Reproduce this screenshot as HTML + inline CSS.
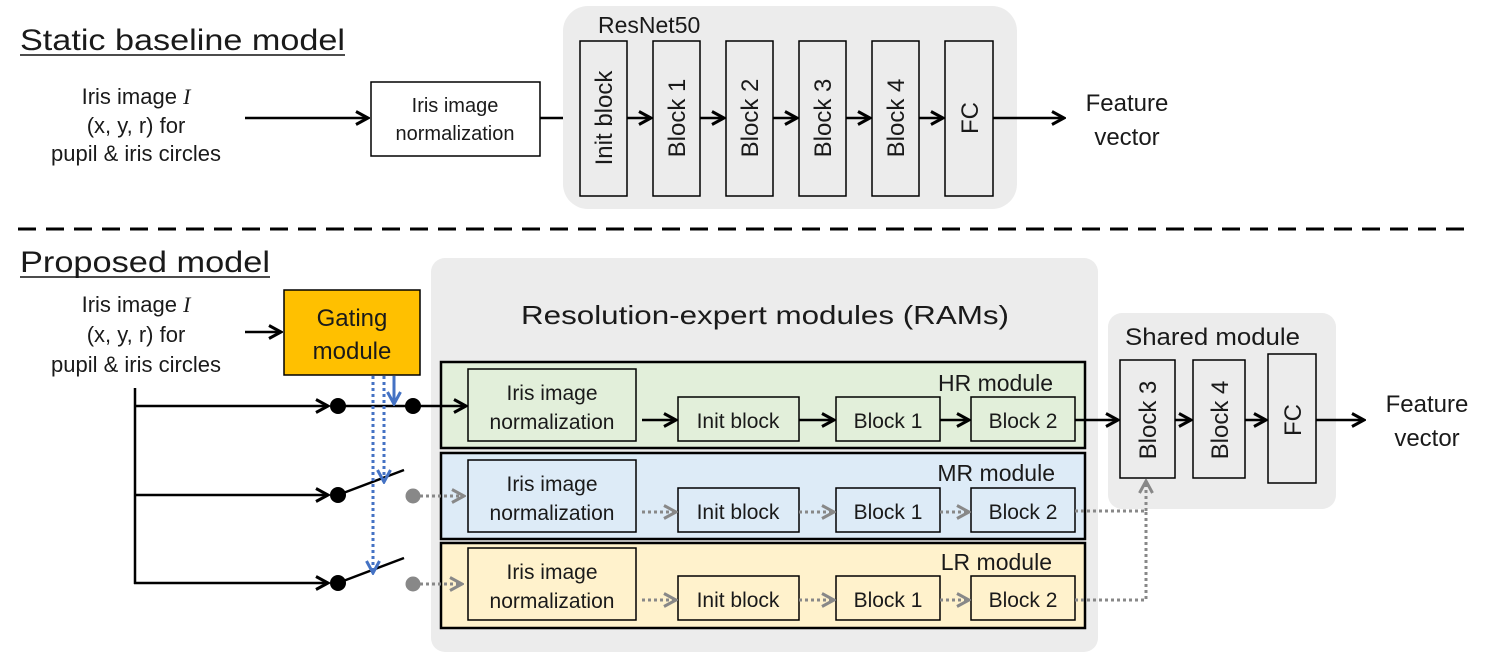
<!DOCTYPE html>
<html><head><meta charset="utf-8"><style>
html,body{margin:0;padding:0;background:#fff;}
svg{display:block;}
text{font-family:"Liberation Sans",sans-serif;fill:#1a1a1a;}
</style></head><body>
<svg width="1495" height="668" viewBox="0 0 1495 668" xmlns="http://www.w3.org/2000/svg">
<defs>
<marker id="a" viewBox="0 0 16 16" refX="14" refY="8" markerWidth="16" markerHeight="16" markerUnits="userSpaceOnUse" orient="auto"><path d="M2,1.5 L14,8 L2,14.5" fill="none" stroke="#000" stroke-width="3"/></marker>
<marker id="g" viewBox="0 0 16 16" refX="14" refY="8" markerWidth="16" markerHeight="16" markerUnits="userSpaceOnUse" orient="auto"><path d="M2,1.5 L14,8 L2,14.5" fill="none" stroke="#888" stroke-width="3"/></marker>
<marker id="b" viewBox="0 0 16 16" refX="14" refY="8" markerWidth="16" markerHeight="16" markerUnits="userSpaceOnUse" orient="auto"><path d="M2,1.5 L14,8 L2,14.5" fill="none" stroke="#4472C4" stroke-width="3"/></marker>
</defs>

<text x="20" y="50" font-size="30" textLength="325" lengthAdjust="spacingAndGlyphs">Static baseline model</text>
<line x1="20" y1="55" x2="345" y2="55" stroke="#111" stroke-width="1.5"/>
<g font-size="22" text-anchor="middle">
<text x="136" y="104">Iris image <tspan font-family="Liberation Serif" font-style="italic">I</tspan></text>
<text x="136" y="133">(x, y, r) for</text>
<text x="136" y="161">pupil &amp; iris circles</text>
</g>
<line x1="245" y1="118" x2="368" y2="118" stroke="#000" stroke-width="2.5" marker-end="url(#a)"/>
<rect x="371" y="82" width="169" height="74" fill="#fff" stroke="#000" stroke-width="1.5"/>
<text x="455" y="112" font-size="20" text-anchor="middle">Iris image</text>
<text x="455" y="140" font-size="20" text-anchor="middle">normalization</text>
<line x1="540" y1="118" x2="578" y2="118" stroke="#000" stroke-width="2.5" marker-end="url(#a)"/>

<rect x="563" y="6" width="454" height="203" rx="25" fill="#ececec"/>
<text x="598" y="33" font-size="23">ResNet50</text>
<g stroke="#000" stroke-width="1.5" fill="#ececec">
<rect x="580" y="41" width="47" height="155"/>
<rect x="653" y="41" width="47" height="155"/>
<rect x="726" y="41" width="47" height="155"/>
<rect x="799" y="41" width="47" height="155"/>
<rect x="872" y="41" width="47" height="155"/>
<rect x="945" y="41" width="48" height="155"/>
</g>
<g font-size="24" text-anchor="middle">
<text transform="translate(612,118) rotate(-90)">Init block</text>
<text transform="translate(685,118) rotate(-90)">Block 1</text>
<text transform="translate(758,118) rotate(-90)">Block 2</text>
<text transform="translate(831,118) rotate(-90)">Block 3</text>
<text transform="translate(904,118) rotate(-90)">Block 4</text>
<text transform="translate(978,118) rotate(-90)">FC</text>
</g>
<g stroke="#000" stroke-width="2.5">
<line x1="627" y1="118" x2="651" y2="118" marker-end="url(#a)"/>
<line x1="700" y1="118" x2="724" y2="118" marker-end="url(#a)"/>
<line x1="773" y1="118" x2="797" y2="118" marker-end="url(#a)"/>
<line x1="846" y1="118" x2="870" y2="118" marker-end="url(#a)"/>
<line x1="919" y1="118" x2="943" y2="118" marker-end="url(#a)"/>
<line x1="993" y1="118" x2="1064" y2="118" marker-end="url(#a)"/>
</g>
<text x="1127" y="111" font-size="24" text-anchor="middle">Feature</text>
<text x="1127" y="145" font-size="24" text-anchor="middle">vector</text>

<line x1="18" y1="229" x2="1472" y2="229" stroke="#000" stroke-width="3" stroke-dasharray="18,10"/>

<text x="20" y="272" font-size="30" textLength="250" lengthAdjust="spacingAndGlyphs">Proposed model</text>
<line x1="20" y1="277" x2="270" y2="277" stroke="#111" stroke-width="1.5"/>
<g font-size="22" text-anchor="middle">
<text x="136" y="312">Iris image <tspan font-family="Liberation Serif" font-style="italic">I</tspan></text>
<text x="136" y="342">(x, y, r) for</text>
<text x="136" y="372">pupil &amp; iris circles</text>
</g>
<line x1="245" y1="332" x2="281" y2="332" stroke="#000" stroke-width="2.5" marker-end="url(#a)"/>
<rect x="284" y="290" width="136" height="85" fill="#FFC000" stroke="#000" stroke-width="1.5"/>
<text x="352" y="326" font-size="24" text-anchor="middle">Gating</text>
<text x="352" y="359" font-size="24" text-anchor="middle">module</text>

<rect x="431" y="258" width="667" height="394" rx="14" fill="#ececec"/>
<text x="765" y="324" font-size="26" text-anchor="middle" textLength="488" lengthAdjust="spacingAndGlyphs">Resolution-expert modules (RAMs)</text>

<rect x="1108" y="313" width="228" height="196" rx="14" fill="#ececec"/>
<text x="1125" y="345" font-size="24" textLength="175" lengthAdjust="spacingAndGlyphs">Shared module</text>

<g stroke="#000" stroke-width="2.5">
<rect x="441" y="362" width="644" height="86" fill="#E2EFDA"/>
<rect x="441" y="453" width="644" height="86" fill="#DDEBF7"/>
<rect x="441" y="543" width="644" height="85" fill="#FFF2CC"/>
</g>
<g font-size="23" text-anchor="end">
<text x="1053" y="391">HR module</text>
<text x="1055" y="481">MR module</text>
<text x="1052" y="570">LR module</text>
</g>
<g stroke="#000" stroke-width="1.5">
<rect x="468" y="369" width="168" height="72" fill="#E2EFDA"/>
<rect x="678" y="397" width="121" height="44" fill="#E2EFDA"/>
<rect x="836" y="397" width="104" height="44" fill="#E2EFDA"/>
<rect x="971" y="397" width="104" height="44" fill="#E2EFDA"/>
<rect x="468" y="460" width="168" height="72" fill="#DDEBF7"/>
<rect x="678" y="488" width="121" height="44" fill="#DDEBF7"/>
<rect x="836" y="488" width="104" height="44" fill="#DDEBF7"/>
<rect x="971" y="488" width="104" height="44" fill="#DDEBF7"/>
<rect x="468" y="548" width="168" height="72" fill="#FFF2CC"/>
<rect x="678" y="576" width="121" height="44" fill="#FFF2CC"/>
<rect x="836" y="576" width="104" height="44" fill="#FFF2CC"/>
<rect x="971" y="576" width="104" height="44" fill="#FFF2CC"/>
</g>
<g font-size="21" text-anchor="middle">
<text x="552" y="400">Iris image</text><text x="552" y="429">normalization</text>
<text x="738" y="428">Init block</text><text x="888" y="428">Block 1</text><text x="1023" y="428">Block 2</text>
<text x="552" y="491">Iris image</text><text x="552" y="520">normalization</text>
<text x="738" y="519">Init block</text><text x="888" y="519">Block 1</text><text x="1023" y="519">Block 2</text>
<text x="552" y="579">Iris image</text><text x="552" y="608">normalization</text>
<text x="738" y="607">Init block</text><text x="888" y="607">Block 1</text><text x="1023" y="607">Block 2</text>
</g>
<g stroke="#000" stroke-width="2.5">
<line x1="642" y1="420" x2="676" y2="420" marker-end="url(#a)"/>
<line x1="799" y1="420" x2="834" y2="420" marker-end="url(#a)"/>
<line x1="940" y1="420" x2="969" y2="420" marker-end="url(#a)"/>
</g>
<g stroke="#888" stroke-width="3" stroke-dasharray="3,3" fill="none">
<line x1="642" y1="512" x2="676" y2="512" marker-end="url(#g)"/>
<line x1="799" y1="512" x2="834" y2="512" marker-end="url(#g)"/>
<line x1="940" y1="512" x2="969" y2="512" marker-end="url(#g)"/>
<line x1="642" y1="600" x2="676" y2="600" marker-end="url(#g)"/>
<line x1="799" y1="600" x2="834" y2="600" marker-end="url(#g)"/>
<line x1="940" y1="600" x2="969" y2="600" marker-end="url(#g)"/>
<path d="M1075,511 L1146,511 L1146,600 L1075,600"/>
<line x1="1146" y1="511" x2="1146" y2="481" marker-end="url(#g)"/>
</g>

<g stroke="#000" stroke-width="1.5" fill="#ececec">
<rect x="1120" y="360" width="55" height="118"/>
<rect x="1193" y="360" width="52" height="118"/>
<rect x="1268" y="354" width="48" height="129"/>
</g>
<g font-size="24" text-anchor="middle">
<text transform="translate(1156,420) rotate(-90)">Block 3</text>
<text transform="translate(1228,420) rotate(-90)">Block 4</text>
<text transform="translate(1301,420) rotate(-90)">FC</text>
</g>
<g stroke="#000" stroke-width="2.5">
<line x1="1075" y1="420" x2="1118" y2="420" marker-end="url(#a)"/>
<line x1="1175" y1="420" x2="1191" y2="420" marker-end="url(#a)"/>
<line x1="1245" y1="420" x2="1266" y2="420" marker-end="url(#a)"/>
<line x1="1316" y1="420" x2="1364" y2="420" marker-end="url(#a)"/>
</g>
<text x="1427" y="412" font-size="24" text-anchor="middle">Feature</text>
<text x="1427" y="446" font-size="24" text-anchor="middle">vector</text>

<g stroke="#000" stroke-width="2.5" fill="none">
<line x1="135" y1="388" x2="135" y2="584"/>
<line x1="134" y1="406" x2="328" y2="406" marker-end="url(#a)"/>
<line x1="134" y1="495" x2="328" y2="495" marker-end="url(#a)"/>
<line x1="134" y1="583" x2="328" y2="583" marker-end="url(#a)"/>
<line x1="338" y1="406" x2="466" y2="406" marker-end="url(#a)"/>
<line x1="338" y1="495" x2="404" y2="470"/>
<line x1="338" y1="583" x2="404" y2="558"/>
</g>
<g fill="#000">
<circle cx="338" cy="406" r="8"/><circle cx="413" cy="406" r="8"/>
<circle cx="338" cy="495" r="8"/><circle cx="338" cy="583" r="8"/>
</g>
<g fill="#888"><circle cx="413" cy="496" r="7.5"/><circle cx="413" cy="584" r="7.5"/></g>
<g stroke="#888" stroke-width="3" stroke-dasharray="3,3">
<line x1="420" y1="496" x2="464" y2="496" marker-end="url(#g)"/>
<line x1="420" y1="584" x2="462" y2="584" marker-end="url(#g)"/>
</g>
<g stroke="#4472C4" stroke-width="3">
<line x1="373" y1="376" x2="373" y2="573" stroke-dasharray="3,3" marker-end="url(#b)"/>
<line x1="384" y1="376" x2="384" y2="482" stroke-dasharray="3,3" marker-end="url(#b)"/>
<line x1="394" y1="376" x2="394" y2="404" marker-end="url(#b)"/>
</g>
</svg>
</body></html>
